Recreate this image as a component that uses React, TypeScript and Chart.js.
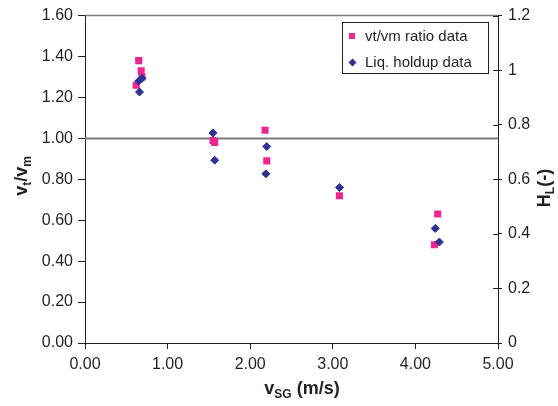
import React, { useEffect, useRef } from "react";
import { Chart, registerables } from "chart.js";

Chart.register(...registerables);

// vt/vm ratio data (left axis)
const ratioX = [0.65, 0.68, 0.69, 0.62, 1.55, 1.57, 2.18, 2.2, 3.08, 4.27, 4.23];
const ratioY = [1.38, 1.33, 1.3, 1.26, 0.99, 0.98, 1.04, 0.89, 0.72, 0.63, 0.48];

// Liquid holdup data (right axis)
const holdupX = [0.65, 0.69, 0.66, 1.55, 1.57, 2.2, 2.19, 3.08, 4.24, 4.29];
const holdupY = [0.96, 0.97, 0.92, 0.77, 0.67, 0.72, 0.62, 0.57, 0.42, 0.37];

// reference line vt/vm = 1
const refX = [0, 5];
const refY = [1, 1];

const legendLabels = ["vt/vm ratio data", "Liq. holdup data"];

const PINK = "#EC268F";
const BLUE = "#2E3192";
const FONT = "'Liberation Sans', Arial, sans-serif";

type Part = { t: string; size: number; dy: number };

function drawRich(ctx: CanvasRenderingContext2D, parts: Part[], x: number, y: number, rot: number) {
  ctx.save();
  ctx.translate(x, y);
  ctx.rotate(rot);
  ctx.fillStyle = "#231f20";
  ctx.textBaseline = "alphabetic";
  ctx.textAlign = "left";
  let total = 0;
  const widths: number[] = [];
  for (const p of parts) {
    ctx.font = `bold ${p.size}px ${FONT}`;
    const w = ctx.measureText(p.t).width;
    widths.push(w);
    total += w;
  }
  let cx = -total / 2;
  parts.forEach((p, i) => {
    ctx.font = `bold ${p.size}px ${FONT}`;
    ctx.fillText(p.t, cx, p.dy);
    cx += widths[i];
  });
  ctx.restore();
}

const extrasPlugin = {
  id: "extras",
  afterDraw(chart: any) {
    const ctx: CanvasRenderingContext2D = chart.ctx;
    const a = chart.chartArea;
    // top frame line
    ctx.save();
    ctx.strokeStyle = "#7a7a7a";
    ctx.lineWidth = 1.5;
    ctx.beginPath();
    ctx.moveTo(a.left, a.top);
    ctx.lineTo(a.right, a.top);
    ctx.stroke();
    // inner tick marks of right axis
    const y2 = chart.scales.y2;
    ctx.strokeStyle = "#231f20";
    ctx.lineWidth = 1;
    y2.ticks.forEach((t: any) => {
      const py = Math.round(y2.getPixelForValue(t.value)) + 0.5;
      ctx.beginPath();
      ctx.moveTo(a.right - 5, py);
      ctx.lineTo(a.right, py);
      ctx.stroke();
    });
    ctx.restore();

    // legend
    ctx.save();
    const lx = 342.5, ly = 22.5, lw = 146, lh = 51;
    ctx.fillStyle = "#ffffff";
    ctx.fillRect(lx, ly, lw, lh);
    ctx.strokeStyle = "#231f20";
    ctx.lineWidth = 1;
    ctx.strokeRect(lx, ly, lw, lh);
    ctx.fillStyle = PINK;
    ctx.fillRect(349, 33, 6, 6);
    ctx.fillStyle = BLUE;
    ctx.beginPath();
    ctx.moveTo(352.5, 58.5);
    ctx.lineTo(356.5, 62.5);
    ctx.lineTo(352.5, 66.5);
    ctx.lineTo(348.5, 62.5);
    ctx.closePath();
    ctx.fill();
    ctx.fillStyle = "#231f20";
    ctx.font = `15px ${FONT}`;
    ctx.textBaseline = "middle";
    ctx.textAlign = "left";
    ctx.fillText(legendLabels[0], 365, 37);
    ctx.fillText(legendLabels[1], 365, 63);
    ctx.restore();

    // axis titles
    drawRich(
      ctx,
      [
        { t: "v", size: 18, dy: 0 },
        { t: "t", size: 12, dy: 4 },
        { t: "/v", size: 18, dy: 0 },
        { t: "m", size: 12, dy: 4 },
      ],
      27,
      176,
      -Math.PI / 2
    );
    drawRich(
      ctx,
      [
        { t: "H", size: 18, dy: 0 },
        { t: "L", size: 12, dy: 4 },
        { t: "(-)", size: 18, dy: 0 },
      ],
      550,
      188,
      -Math.PI / 2
    );
    drawRich(
      ctx,
      [
        { t: "v", size: 18, dy: 0 },
        { t: "SG", size: 12, dy: 4 },
        { t: " (m/s)", size: 18, dy: 0 },
      ],
      302,
      394,
      0
    );
  },
};

export default function App() {
  const ref = useRef<HTMLCanvasElement>(null);
  useEffect(() => {
    if (!ref.current) return;
    const tickFont = { family: FONT, size: 16 };
    const chart = new Chart(ref.current, {
      type: "scatter",
      data: {
        datasets: [
          {
            type: "line",
            label: "ref",
            data: refX.map((x, i) => ({ x, y: refY[i] })),
            borderColor: "#7a7a7a",
            borderWidth: 2,
            pointRadius: 0,
            yAxisID: "y",
            order: 3,
          } as any,
          {
            label: legendLabels[0],
            data: ratioX.map((x, i) => ({ x, y: ratioY[i] })),
            backgroundColor: PINK,
            borderColor: PINK,
            borderWidth: 0,
            pointStyle: "rect",
            pointRadius: 5,
            yAxisID: "y",
            order: 2,
          },
          {
            label: legendLabels[1],
            data: holdupX.map((x, i) => ({ x, y: holdupY[i] })),
            backgroundColor: BLUE,
            borderColor: BLUE,
            borderWidth: 1,
            pointStyle: "rectRot",
            pointRadius: 4,
            yAxisID: "y2",
            order: 1,
          },
        ],
      },
      options: {
        animation: false,
        responsive: false,
        layout: { padding: { top: 15, left: 0, right: 0, bottom: 0 } },
        plugins: { legend: { display: false }, tooltip: { enabled: false } },
        scales: {
          x: {
            type: "linear",
            min: 0,
            max: 5,
            afterFit: (s: any) => {
              s.height = 63;
            },
            ticks: {
              stepSize: 1,
              font: tickFont,
              color: "#231f20",
              padding: 6,
              maxRotation: 0,
              callback: (v: any) => Number(v).toFixed(2),
            },
            grid: { drawOnChartArea: false, tickLength: 6, tickColor: "#231f20" },
            border: { color: "#231f20", width: 1 },
          },
          y: {
            type: "linear",
            position: "left",
            min: 0,
            max: 1.6,
            afterFit: (s: any) => {
              s.width = 85;
            },
            ticks: {
              stepSize: 0.2,
              font: tickFont,
              color: "#231f20",
              padding: 5,
              callback: (v: any) => Number(v).toFixed(2),
            },
            grid: { drawOnChartArea: false, tickLength: 7, tickColor: "#231f20" },
            border: { color: "#231f20", width: 1 },
          },
          y2: {
            type: "linear",
            position: "right",
            min: 0,
            max: 1.2,
            afterFit: (s: any) => {
              s.width = 60;
            },
            ticks: {
              stepSize: 0.2,
              font: tickFont,
              color: "#231f20",
              padding: 6,
              callback: (v: any) => String(Math.round(Number(v) * 10) / 10),
            },
            grid: { drawOnChartArea: false, tickLength: 4, tickColor: "#231f20" },
            border: { color: "#231f20", width: 1 },
          },
        },
      },
      plugins: [extrasPlugin],
    } as any);
    return () => chart.destroy();
  }, []);
  return (
    <div style={{ position: "absolute", left: 0, top: 0, width: 558, height: 406, background: "#fff" }}>
      <canvas ref={ref} width={558} height={406} style={{ display: "block" }} />
    </div>
  );
}
